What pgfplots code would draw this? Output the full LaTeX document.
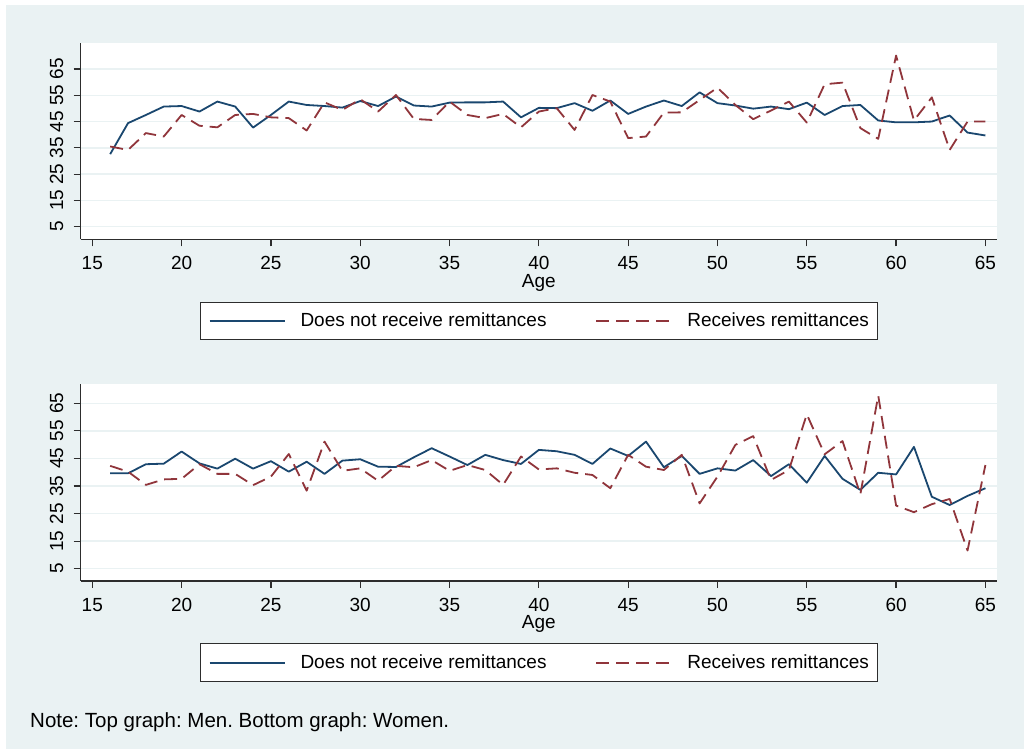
\documentclass[border=0pt]{standalone}
\usepackage{fontspec}
\setmainfont{Liberation Sans}
\usepackage{pgfplots}
\pgfplotsset{compat=1.18}
\frenchspacing
\definecolor{bg}{RGB}{234,242,243}
\definecolor{sblue}{RGB}{26,71,111}
\definecolor{sred}{RGB}{144,53,59}
\definecolor{axgrey}{RGB}{45,45,45}
\newcommand{\fsz}{\fontsize{19}{22}\selectfont}
\pgfplotsset{
 stata/.style={
  scale only axis, width=916.3pt,
  xmin=14.35, xmax=65.65,
  axis x line*=bottom, axis y line*=left,
  axis line style={line width=1.3pt, color=axgrey, -},
  axis background/.style={fill=white},
  xtick={15,20,...,65}, ytick={5,15,...,65},
  tick align=outside, major tick length=7pt,
  tick style={line width=1.2pt, color=axgrey},
  ymajorgrids, grid style={color=bg, line width=1.5pt},
  /pgf/number format/assume math mode=true,
  ticklabel style={font=\fsz},
  yticklabel style={rotate=90, anchor=south, inner sep=0pt, text height=13.6pt, text depth=0pt},
  xticklabel style={anchor=north, inner sep=0pt, text height=13.6pt, text depth=0pt},
  xticklabel shift=9.7pt, yticklabel shift=10.4pt,
  xlabel={Age}, xlabel style={font=\fsz, at={(axis description cs:0.5,0)}, anchor=base, yshift=-47.9pt},
  legend columns=2, legend cell align=left,
  legend style={at={(0.5,0)}, anchor=north, yshift=-62.3pt, draw=axgrey, line width=1pt, fill=white, font=\fsz,
    inner xsep=8pt, inner ysep=11pt,
    nodes={inner sep=0pt, text height=13.6pt, text depth=2.2pt},
    /tikz/every odd column/.append style={column sep=15pt},
    /tikz/every even column/.append style={column sep=49pt}},
  legend image code/.code={\draw[#1] (0pt,0pt) -- (75pt,0pt);},
  blu/.style={color=sblue, line width=1.8pt, line join=round},
  rd/.style={color=sred, line width=1.8pt, line join=round, dash pattern=on 13pt off 7pt},
 }
}
\pgfplotstableread{
age nr r
16 32.6 35.5
17 44.4 34.2
18 47.5 40.6
19 50.7 39.3
20 50.9 47.5
21 48.8 43.4
22 52.6 42.8
23 50.7 47.5
24 42.7 47.9
25 47.5 46.6
26 52.6 46.3
27 51.3 41.6
28 50.9 52.3
29 50.3 49.4
30 52.8 53.5
31 50.9 48.8
32 54.5 55.1
33 51.1 46.0
34 50.7 45.6
35 52.2 52.6
36 52.3 47.5
37 52.3 46.3
38 52.6 47.9
39 46.6 42.8
40 50.2 48.8
41 50.1 50.1
42 52.0 41.8
43 49.1 55.1
44 53.0 52.6
45 47.9 38.7
46 50.7 39.3
47 53.0 48.4
48 50.9 48.5
49 56.1 53.2
50 52.0 57.9
51 51.1 51.3
52 49.9 45.9
53 50.7 49.2
54 49.7 52.6
55 52.2 44.6
56 47.5 59.2
57 50.9 59.8
58 51.3 42.5
59 45.4 38.4
60 44.7 70.1
61 44.7 45.4
62 45.0 54.2
63 47.3 34.2
64 40.8 45.0
65 39.7 45.0
}\men
\pgfplotstableread{
age nr r
16 39.6 42.3
17 39.6 40.2
18 42.9 35.4
19 43.1 37.4
20 47.5 37.6
21 43.2 42.9
22 41.3 39.4
23 44.9 39.4
24 41.3 35.3
25 44.0 38.4
26 40.2 46.6
27 43.8 33.3
28 39.4 51.1
29 44.2 40.5
30 44.7 41.4
31 42.0 36.9
32 41.9 42.3
33 45.4 41.8
34 48.7 44.4
35 45.7 40.5
36 42.6 42.6
37 46.3 40.8
38 44.4 35.4
39 43.0 45.7
40 48.1 41.0
41 47.6 41.4
42 46.3 39.8
43 43.0 39.0
44 48.6 34.2
45 45.9 46.3
46 51.1 42.0
47 41.8 40.8
48 45.9 46.3
49 39.4 28.7
50 41.4 38.4
51 40.6 49.9
52 44.4 53.1
53 38.6 37.2
54 42.9 40.8
55 36.2 61.0
56 45.9 46.5
57 37.6 51.3
58 33.6 32.0
59 39.8 67.8
60 39.2 27.9
61 49.2 25.5
62 31.1 28.4
63 28.1 30.3
64 31.4 11.6
65 34.2 42.6
}\women
\begin{document}
\begin{tikzpicture}[x=1pt,y=1pt]
\fill[white] (0,0) rectangle (1024,749);
\fill[bg] (6,0) rectangle (1024,744);
\begin{axis}[stata, at={(80.7pt,509.7pt)}, anchor=south west, height=196.6pt, ymin=0.2, ymax=75]
\addplot[blu] table[x=age,y=nr] {\men};
\addlegendentry{Does not receive remittances}
\addplot[rd] table[x=age,y=r] {\men};
\addlegendentry{Receives remittances\hspace{7pt}}
\end{axis}
\begin{axis}[stata, at={(80.7pt,168pt)}, anchor=south west, height=197pt, ymin=0.54, ymax=72]
\addplot[blu] table[x=age,y=nr] {\women};
\addlegendentry{Does not receive remittances}
\addplot[rd] table[x=age,y=r] {\women};
\addlegendentry{Receives remittances\hspace{7pt}}
\end{axis}
\node[anchor=base west, font=\fontsize{20.5}{24}\selectfont, inner sep=0pt] at (30,21.3) {Note: Top graph: Men. Bottom graph: Women.};
\end{tikzpicture}
\end{document}
